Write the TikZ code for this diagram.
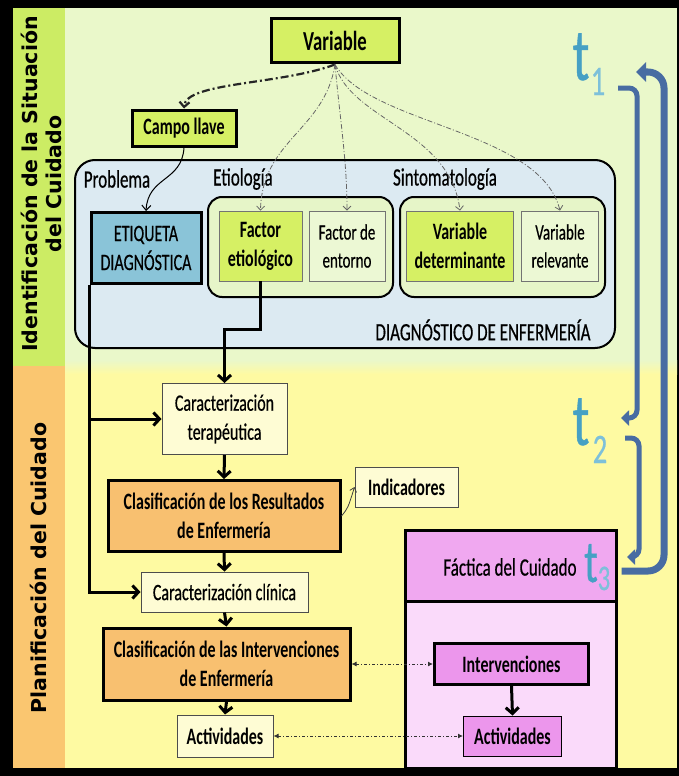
\documentclass[tikz,border=0pt]{standalone}
\usepackage{fontspec}
\setmainfont{Carlito}[FakeStretch=0.68, UprightFeatures={FakeBold=0.5}]
\newfontfamily\sidefont{DejaVu Sans}
\usetikzlibrary{arrows.meta}
\definecolor{limeF}{RGB}{214,240,100}
\definecolor{bgG}{RGB}{234,248,202}
\definecolor{bgY}{RGB}{254,250,162}
\definecolor{stripG}{RGB}{204,236,100}
\definecolor{stripO}{RGB}{250,198,112}
\definecolor{diagF}{RGB}{220,234,242}
\definecolor{etiqF}{RGB}{138,196,216}
\definecolor{grpF}{RGB}{230,245,200}
\definecolor{paleG}{RGB}{236,248,212}
\definecolor{paleY}{RGB}{254,252,212}
\definecolor{orangeF}{RGB}{248,192,112}
\definecolor{violetF}{RGB}{240,168,240}
\definecolor{pinkL}{RGB}{250,218,250}
\definecolor{pinkF}{RGB}{236,150,236}
\definecolor{blueA}{RGB}{72,108,162}
\definecolor{tealT}{RGB}{70,160,196}
\definecolor{tealD}{RGB}{125,192,218}
\newcommand\fsBig{\fontsize{27.5}{30}\selectfont}
\newcommand\fsMain{\fontsize{23.5}{29}\selectfont}
\newcommand\fsSmall{\fontsize{22}{28}\selectfont}
\newcommand\fsLab{\fontsize{25}{28}\selectfont}
\newcommand\fsSide{\fontsize{20.5}{24}\selectfont}
\tikzset{
  basebox/.style={draw, inner sep=0pt, align=center, font=\fsMain},
  strongbox/.style={basebox, line width=3pt},
  limebox/.style={strongbox, fill=limeF, font=\fsMain\bfseries},
  subbox/.style={basebox, line width=0.8pt, draw=black!55},
  lightbox/.style={basebox, line width=1pt, draw=black!70, fill=paleY},
  orangebox/.style={strongbox, fill=orangeF, font=\fsMain\bfseries},
  grp/.style={draw, line width=2pt, rounded corners=14pt, fill=grpF, inner sep=0pt},
  lab/.style={font=\fsLab, inner sep=0pt},
  thickarrow/.style={line width=3pt, line join=miter, -{Straight Barb[length=6pt,width=13pt]}},
  dashbig/.style={line width=2.2pt, black!85, dash pattern=on 8pt off 3pt on 2pt off 3pt, -{Straight Barb[length=5pt,width=10pt]}},
  dashthin/.style={line width=0.8pt, black!60, dash pattern=on 5pt off 2pt on 1pt off 2pt, -{Straight Barb[length=4pt,width=8pt]}},
  dotdouble/.style={line width=0.9pt, black!80, dash pattern=on 3pt off 2pt on 1pt off 2pt, {Latex[length=5pt,width=5pt]}-{Latex[length=5pt,width=5pt]}},
  bluearrow/.style={line width=5pt, blueA, rounded corners=8pt, -{Triangle[length=8pt,width=15pt]}},
  bigbluearrow/.style={line width=7pt, blueA, rounded corners=16pt, -{Triangle[length=10pt,width=19pt]}},
  tletter/.style={text=tealT, inner sep=0pt, anchor=base},
  tdigit/.style={text=tealD, inner sep=0pt, anchor=base},
}
\begin{document}
\begin{tikzpicture}[x=1pt, y=-1pt]
\useasboundingbox (0,0) rectangle (679,776);
% frame and backgrounds
\fill[black] (0,0) rectangle (679,776);
\fill[bgG] (13,8) rectangle (677,368);
\fill[bgY] (13,368) rectangle (677,768);
\shade[top color=bgG, bottom color=bgY] (65,360) rectangle (677,374);
\fill[stripG] (13,8) rectangle (65,366);
\fill[stripO] (13,366) rectangle (65,768);
% side titles
\node[rotate=90, font=\sidefont\bfseries\fsSide, align=center, inner sep=0pt] (side1) at (41,184) {Identificación de la Situación\\del Cuidado};
\node[rotate=90, font=\sidefont\bfseries\fsSide, inner sep=0pt] (side2) at (38,568) {Planificación del Cuidado};
% diagnosis area
\node[draw, line width=2pt, rounded corners=20pt, fill=diagF, minimum width=540, minimum height=188, inner sep=0pt] (diag) at (345,254) {};
\node[grp, minimum width=185, minimum height=100] (etio) at (300.5,247) {};
\node[grp, minimum width=205, minimum height=100] (sinto) at (502.5,247) {};
\node[lab] (lprob) at (117,179) {Problema};
\node[lab] (letio) at (243,179) {Etiología};
\node[lab] (lsinto) at (445,179) {Sintomatología};
\node[lab] (ldiag) at (483,330) {DIAGNÓSTICO DE ENFERMERÍA};
% top nodes
\node[limebox, font=\fsBig\bfseries, minimum width=128, minimum height=44] (var) at (335,41) {Variable};
\node[limebox, minimum width=104, minimum height=36] (campo) at (184,128) {Campo llave};
\node[strongbox, fill=etiqF, minimum width=110, minimum height=71] (etiq) at (146,248) {ETIQUETA\\DIAGNÓSTICA};
\node[subbox, fill=limeF, font=\fsMain\bfseries, minimum width=83, minimum height=70] (fe) at (260.5,246) {Factor\\etiológico};
\node[subbox, fill=paleG, font=\fsSmall, minimum width=76, minimum height=70] (fen) at (347,246) {Factor de\\entorno};
\node[subbox, fill=limeF, font=\fsMain\bfseries, minimum width=107, minimum height=70] (vd) at (460,246) {Variable\\determinante};
\node[subbox, fill=paleG, font=\fsSmall, minimum width=77, minimum height=70] (vr) at (560,246) {Variable\\relevante};
% planning nodes
\node[lightbox, minimum width=125, minimum height=71] (ct) at (224.5,419) {Caracterización\\terapéutica};
\node[orangebox, minimum width=232, minimum height=71] (crr) at (224,516) {Clasificación de los Resultados\\de Enfermería};
\node[lightbox, font=\fsMain\bfseries, minimum width=103, minimum height=40] (ind) at (406.5,487) {Indicadores};
\node[lightbox, minimum width=167, minimum height=40] (cc) at (224.5,592) {Caracterización clínica};
\node[orangebox, minimum width=247, minimum height=72] (cri) at (226.5,664) {Clasificación de las Intervenciones\\de Enfermería};
\node[lightbox, font=\fsMain\bfseries, minimum width=96, minimum height=42] (act) at (225,736) {Actividades};
% factica
\node[draw, line width=3pt, fill=pinkL, minimum width=211, minimum height=167, inner sep=0pt] (fl) at (510.5,684.5) {};
\node[draw, line width=3pt, fill=violetF, minimum width=211, minimum height=71, inner sep=0pt] (fh) at (510.5,565.5) {};
\node[lab] (fht) at (510,567) {Fáctica del Cuidado};
\node[strongbox, fill=pinkF, font=\fsMain\bfseries, minimum width=154, minimum height=41] (intv) at (511.5,664) {Intervenciones};
\node[basebox, line width=1pt, fill=pinkF, font=\fsMain\bfseries, minimum width=98, minimum height=40] (actp) at (512.5,736) {Actividades};
% t labels
\node[tletter, font=\fontsize{74}{74}\selectfont] (t1) at (581,80) {t};
\node[tdigit, font=\fontsize{42}{42}\selectfont] (d1) at (598,95) {1};
\node[tletter, font=\fontsize{74}{74}\selectfont] (t2) at (581,445) {t};
\node[tdigit, font=\fontsize{42}{42}\selectfont] (d2) at (600,463) {2};
\node[tletter, font=\fontsize{60}{60}\selectfont] (t3) at (591,582) {t};
\node[tdigit, font=\fontsize{36}{36}\selectfont] (d3) at (604,590) {3};
% dashed connectors from Variable
\draw[dashbig] (var.south) .. controls (280,85) and (186,82) .. (campo.north);
\draw[dashthin] (var.south) .. controls (325,130) and (262,140) .. (fe.north);
\draw[dashthin] (var.south) .. controls (340,120) and (347,160) .. (fen.north);
\draw[dashthin] (var.south) .. controls (350,120) and (450,130) .. (vd.north);
\draw[dashthin] (var.south) .. controls (370,125) and (540,130) .. (vr.north);
% campo -> etiqueta
\draw[line width=1pt, -{Straight Barb[length=5pt,width=9pt]}] (campo.south) .. controls (182,182) and (148,176) .. (etiq.north);
% thick connectors
\draw[thickarrow] (etiq.south west) |- (cc.west);
\draw[thickarrow] (etiq.south west |- ct.west) -- (ct.west);
\draw[thickarrow] (fe.south) -- ++(0,48) -| (ct.north);
\draw[thickarrow] (ct.south) -- (crr.north);
\draw[thickarrow] (crr.south) -- (cc.north);
\draw[thickarrow] (cc.south) -- (cri.north);
\draw[thickarrow] (cri.south) -- (act.north);
\draw[thickarrow] (intv.south) -- (actp.north);
\draw[line width=0.8pt, black!75, -{Straight Barb[length=4pt,width=7pt]}] (crr.east) .. controls (348,508) .. (ind.west);
\draw[dotdouble] (cri.east) -- (intv.west);
\draw[dotdouble] (act.east) -- (actp.west);
% blue time arrows
\coordinate (b1s) at (618,88);
\coordinate (b1e) at (621,418);
\coordinate (b2s) at (625,438);
\coordinate (b2e) at (627,557);
\coordinate (b3e) at (636,72);
\draw[bluearrow] (b1s) -- (637,88) -- (637,418) -- (b1e);
\draw[bluearrow] (b2s) -- (639,438) -- (639,557) -- (b2e);
\draw[bigbluearrow] (fh.east |- fht) ++(4,4) -- (664,571) -- (664,72) -- (b3e);
\end{tikzpicture}
\end{document}
